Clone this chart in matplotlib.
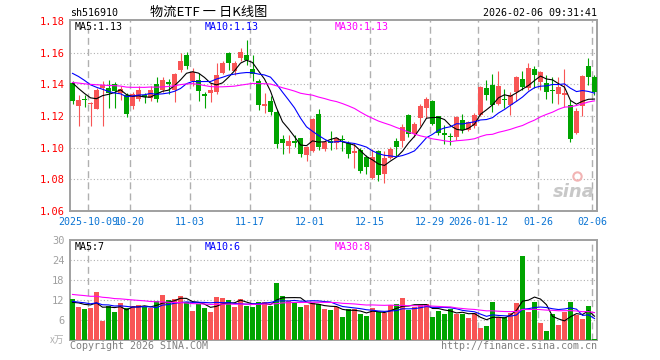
import numpy as np
import pandas as pd
import matplotlib
matplotlib.use("Agg")
import matplotlib.pyplot as plt

# daily K data (index 0 = 2025-09-26 ... 87 = 2026-02-06)
opens = [1.1410, 1.1262, 1.1306, 1.1276, 1.1247, 1.1380, 1.1378, 1.1400, 1.1345, 1.1333,
         1.1265, 1.1305, 1.1335, 1.1315, 1.1400, 1.1366, 1.1415, 1.1366, 1.1489, 1.1585,
         1.1419, 1.1430, 1.1339, 1.1345, 1.1350, 1.1472, 1.1600, 1.1485, 1.1565, 1.1586,
         1.1499, 1.1419, 1.1261, 1.1297, 1.1225, 1.1055, 1.1013, 1.1043, 1.1061, 1.0956,
         1.0980, 1.1213, 1.0994, 1.1040, 1.1028, 1.1058, 1.1030, 1.0965, 1.0985, 1.0940,
         1.0808, 1.0980, 1.0835, 1.0935, 1.1042, 1.1040, 1.1205, 1.1085, 1.1188, 1.1250,
         1.1297, 1.1198, 1.1093, 1.1076, 1.1065, 1.1173, 1.1114, 1.1135, 1.1204, 1.1377,
         1.1398, 1.1276, 1.1307, 1.1267, 1.1352, 1.1434, 1.1377, 1.1499, 1.1413, 1.1408,
         1.1366, 1.1339, 1.1335, 1.1272, 1.1093, 1.1261, 1.1514, 1.1444]
closes = [1.1298, 1.1304, 1.1302, 1.1282, 1.1362, 1.1395, 1.1345, 1.1360, 1.1368, 1.1210,
          1.1338, 1.1365, 1.1320, 1.1366, 1.1305, 1.1427, 1.1400, 1.1465, 1.1545, 1.1515,
          1.1476, 1.1356, 1.1328, 1.1366, 1.1460, 1.1538, 1.1533, 1.1533, 1.1607, 1.1554,
          1.1465, 1.1267, 1.1276, 1.1225, 1.1025, 1.1028, 1.1044, 1.1028, 1.0960, 1.1004,
          1.1180, 1.1006, 1.1038, 1.1032, 1.1060, 1.1047, 1.0960, 1.0980, 1.0855, 1.0880,
          1.0940, 1.0830, 1.0935, 1.0993, 1.1003, 1.1130, 1.1087, 1.1147, 1.1262, 1.1307,
          1.1150, 1.1093, 1.1078, 1.1068, 1.1194, 1.1114, 1.1160, 1.1208, 1.1381, 1.1335,
          1.1267, 1.1387, 1.1302, 1.1335, 1.1444, 1.1383, 1.1503, 1.1457, 1.1476, 1.1352,
          1.1356, 1.1383, 1.1345, 1.1057, 1.1234, 1.1450, 1.1444, 1.1352]
highs = [1.1420, 1.1330, 1.1330, 1.1288, 1.1378, 1.1422, 1.1430, 1.1415, 1.1390, 1.1345,
         1.1355, 1.1390, 1.1345, 1.1387, 1.1444, 1.1444, 1.1431, 1.1470, 1.1600, 1.1606,
         1.1503, 1.1472, 1.1350, 1.1408, 1.1535, 1.1545, 1.1606, 1.1545, 1.1632, 1.1680,
         1.1583, 1.1436, 1.1345, 1.1324, 1.1240, 1.1080, 1.1080, 1.1080, 1.1063, 1.1013,
         1.1187, 1.1246, 1.1051, 1.1107, 1.1063, 1.1080, 1.1044, 1.1028, 1.0995, 1.0956,
         1.0990, 1.0985, 1.0980, 1.1007, 1.1060, 1.1150, 1.1212, 1.1165, 1.1275, 1.1318,
         1.1303, 1.1202, 1.1141, 1.1093, 1.1198, 1.1213, 1.1166, 1.1219, 1.1387, 1.1429,
         1.1465, 1.1482, 1.1370, 1.1352, 1.1450, 1.1482, 1.1535, 1.1514, 1.1482, 1.1461,
         1.1444, 1.1444, 1.1497, 1.1303, 1.1251, 1.1457, 1.1566, 1.1461]
lows = [1.1275, 1.1140, 1.1255, 1.1140, 1.1245, 1.1140, 1.1253, 1.1250, 1.1300, 1.1195,
        1.1245, 1.1295, 1.1280, 1.1295, 1.1290, 1.1352, 1.1340, 1.1290, 1.1478, 1.1495,
        1.1387, 1.1293, 1.1250, 1.1290, 1.1339, 1.1465, 1.1490, 1.1460, 1.1550, 1.1520,
        1.1420, 1.1240, 1.1220, 1.1204, 1.1000, 1.0958, 1.0966, 1.1003, 1.0939, 1.0918,
        1.0975, 1.0983, 1.0977, 1.0987, 1.0990, 1.0978, 1.0937, 1.0870, 1.0842, 1.0836,
        1.0800, 1.0787, 1.0775, 1.0927, 1.0945, 1.1003, 1.1065, 1.1070, 1.1140, 1.1187,
        1.1145, 1.1078, 1.1023, 1.1019, 1.1051, 1.1093, 1.1103, 1.1124, 1.1198, 1.1303,
        1.1225, 1.1267, 1.1250, 1.1204, 1.1293, 1.1366, 1.1366, 1.1377, 1.1366, 1.1310,
        1.1282, 1.1276, 1.1255, 1.1036, 1.1089, 1.1198, 1.1398, 1.1335]
volumes = [12.3, 10.0, 9.3, 9.7, 14.4, 5.8, 10.3, 8.4, 11.1, 9.5,
           10.2, 10.5, 10.0, 9.5, 11.7, 13.5, 11.9, 12.3, 13.2, 11.5,
           8.7, 10.8, 9.6, 8.4, 13.0, 12.6, 11.9, 9.9, 12.3, 10.2,
           9.9, 11.4, 11.3, 10.2, 17.1, 13.3, 11.6, 11.4, 10.0, 10.4,
           11.1, 10.8, 9.3, 9.0, 10.0, 6.9, 9.4, 9.3, 7.8, 7.2,
           9.6, 8.5, 8.1, 10.5, 10.8, 12.7, 8.9, 10.0, 10.6, 10.9,
           6.9, 8.8, 7.8, 9.2, 7.9, 7.9, 6.6, 8.1, 3.6, 4.2,
           11.4, 6.9, 6.8, 8.2, 11.2, 25.2, 8.4, 11.4, 5.2, 2.7,
           7.8, 4.5, 8.5, 11.4, 7.4, 6.4, 10.2, 0.3]

# closes / volumes before the visible window, guessed from where the MA lines start
prev_close = [1.141, 1.144, 1.139, 1.143, 1.146, 1.142, 1.140, 1.144, 1.141, 1.138,
              1.136, 1.133, 1.130, 1.134, 1.137, 1.132, 1.135, 1.131, 1.138, 1.142,
              1.150, 1.155, 1.156, 1.152, 1.152, 1.148, 1.146, 1.142, 1.139]
prev_vol = [15.5, 14.2, 16.0, 13.8, 15.1, 14.6, 15.9, 13.5, 14.4, 15.0,
            14.8, 13.9, 15.6, 14.1, 14.9, 15.3, 13.7, 14.5, 15.2, 14.0,
            12.5, 11.2, 12.8, 11.4, 11.6, 10.8, 11.6, 10.5, 11.3]

tick_idx = [3, 10, 20, 30, 40, 50, 60, 68, 78, 87]
tick_labels = ['2025-10-09', '10-20', '11-03', '11-17', '12-01', '12-15',
               '12-29', '2026-01-12', '01-26', '02-06']

RED = '#f85555'
GREEN = '#00a400'
GRID = '#b0b0b0'
MONO = 'DejaVu Sans Mono'
CJK = ['Noto Sans CJK SC', 'DejaVu Sans']
FS = 7.2

n = len(closes)
x = np.arange(n)
o = np.array(opens)
c = np.array(closes)
up = c >= o
cols = np.where(up, RED, GREEN)

close_all = pd.Series(prev_close + closes)
vol_all = pd.Series(prev_vol + volumes)
k = len(prev_close)
ma = {w: close_all.rolling(w).mean().values[k:] for w in (5, 10, 30)}
vma = {w: vol_all.rolling(w).mean().values[k:] for w in (5, 10, 30)}
ma_cols = {5: 'black', 10: '#0000ff', 30: '#ff00ff'}

fig = plt.figure(figsize=(6.6, 3.6), dpi=100)
W, H = 660, 360
L, R = 70, 597
ax = fig.add_axes([L / W, 1 - 211 / H, (R - L) / W, 191 / H])
axv = fig.add_axes([L / W, 1 - 340 / H, (R - L) / W, 100 / H])

xl = (-0.4167, n - 1 + 0.4167)
grid_x = [i - 0.42 for i in tick_idx]

# price panel
bw = 0.83
ax.vlines(x, lows, highs, colors=cols, lw=0.8, zorder=3)
body = np.maximum(np.abs(c - o), 0.0007)
ax.bar(x, body, bottom=np.minimum(o, c), width=bw, color=cols, lw=0, zorder=4)
for w in (5, 10, 30):
    ax.plot(x, ma[w], color=ma_cols[w], lw=0.8, zorder=5)
ax.set_xlim(*xl)
ax.set_ylim(1.06, 1.1807)
yt = [1.06, 1.08, 1.10, 1.12, 1.14, 1.16, 1.18]
ax.set_yticks(yt)
ax.set_yticklabels(['%.2f' % v for v in yt], color='#ff0000', family=MONO, fontsize=FS + 0.3)
for v in [1.08, 1.10, 1.12, 1.14, 1.16]:
    ax.axhline(v, color=GRID, lw=0.8, ls=(0, (1, 2)), zorder=1)
for g in grid_x:
    ax.axvline(g, color=GRID, lw=1.0, ls=(0, (5, 3)), zorder=1)
ax.set_xticks(grid_x)
ax.set_xticklabels(tick_labels, color='#0a74d4', family=MONO, fontsize=FS)
ax.tick_params(length=0, pad=4)

# volume panel
axv.bar(x, volumes, width=bw, color=cols, lw=0, zorder=3)
for w in (5, 10, 30):
    axv.plot(x, vma[w], color=ma_cols[w], lw=0.8, zorder=5)
axv.set_xlim(*xl)
axv.set_ylim(0, 30)
axv.set_yticks([6, 12, 18, 24, 30])
axv.set_yticklabels(['6', '12', '18', '24', '30'], color='#a0a0a0', family=MONO, fontsize=FS + 0.3)
for v in [6, 12, 18, 24]:
    axv.axhline(v, color=GRID, lw=0.8, ls=(0, (1, 2)), zorder=1)
for g in grid_x:
    axv.axvline(g, color=GRID, lw=1.0, ls=(0, (5, 3)), zorder=1)
axv.set_xticks([])
axv.tick_params(length=0, pad=4)

for a in (ax, axv):
    for s in a.spines.values():
        s.set_color('#a0a0a0')
        s.set_linewidth(1.4)

# texts
def fx(px):
    return px / W

def fy(py):
    return 1 - py / H

fig.text(fx(70), fy(13), 'sh516910', family=MONO, fontsize=FS, va='center', ha='left')
fig.text(fx(209), fy(12.5), '物流ETF 一 日K线图', family=CJK, fontsize=9.5, va='center', ha='center')
fig.text(fx(597), fy(13), '2026-02-06 09:31:41', family=MONO, fontsize=FS, va='center', ha='right')

fig.text(fx(75), fy(27), 'MA5:1.13', color='black', family=MONO, fontsize=FS, va='center')
fig.text(fx(205), fy(27), 'MA10:1.13', color='#0000ff', family=MONO, fontsize=FS, va='center')
fig.text(fx(335), fy(27), 'MA30:1.13', color='#ff00ff', family=MONO, fontsize=FS, va='center')

fig.text(fx(75), fy(247), 'MA5:7', color='black', family=MONO, fontsize=FS, va='center')
fig.text(fx(205), fy(247), 'MA10:6', color='#0000ff', family=MONO, fontsize=FS, va='center')
fig.text(fx(335), fy(247), 'MA30:8', color='#ff00ff', family=MONO, fontsize=FS, va='center')

fig.text(fx(64), fy(340), 'x万', color='#b0b0b0', family=CJK, fontsize=7, va='center', ha='right',
         style='italic')
fig.text(fx(70), fy(346), 'Copyright 2026 SINA.COM', color='#808080', family=MONO, fontsize=FS,
         va='center', ha='left')
fig.text(fx(597), fy(346), 'http://finance.sina.com.cn', color='#808080', family=MONO, fontsize=FS,
         va='center', ha='right')

# sina watermark
ax.text(0.995, 0.1, 'sina', transform=ax.transAxes, ha='right', va='center', fontsize=13,
        fontweight='bold', style='italic', color='#c8c8c8', zorder=2)
ax.plot([0.962], [0.185], 'o', transform=ax.transAxes, ms=6, mfc='none', mec='#f2b4b4', mew=1.5, zorder=2)

fig.savefig('out.png', dpi=100)
